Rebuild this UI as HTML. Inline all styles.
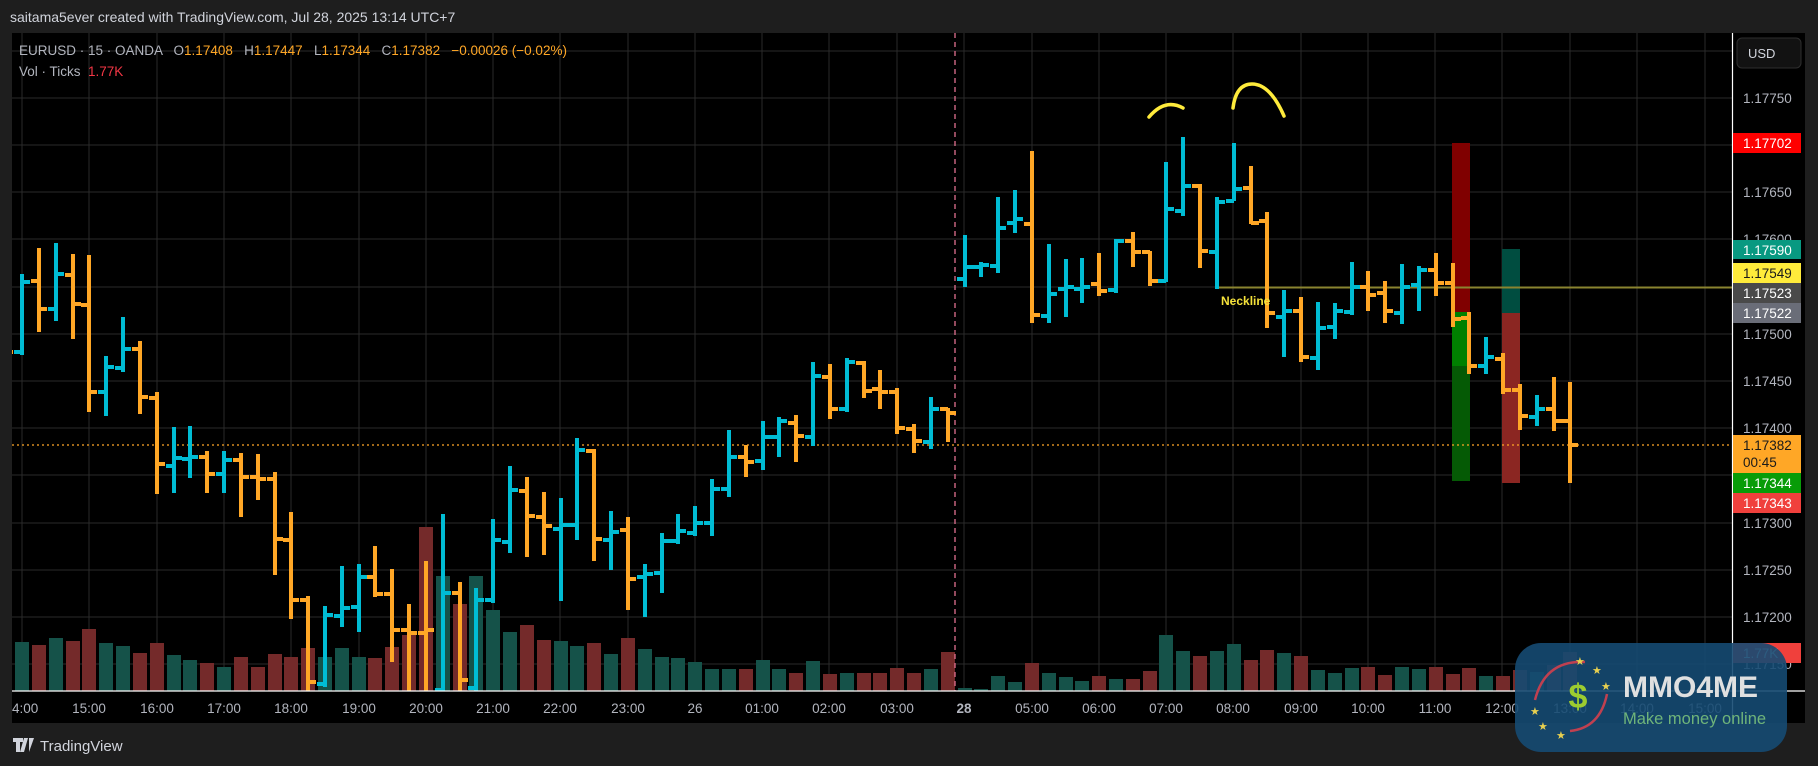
<!DOCTYPE html>
<html><head><meta charset="utf-8"><style>
html,body{margin:0;padding:0;background:#1e1e1e;width:1818px;height:766px;overflow:hidden}
svg{display:block}
text{font-family:"Liberation Sans",sans-serif}
</style></head><body>
<svg width="1818" height="766" viewBox="0 0 1818 766" xmlns="http://www.w3.org/2000/svg">
<rect x="0" y="0" width="1818" height="766" fill="#1e1e1e"/>
<text x="10" y="22" font-size="14" fill="#d1d4dc">saitama5ever created with TradingView.com, Jul 28, 2025 13:14 UTC+7</text>
<rect x="12" y="33" width="1793" height="690" fill="#000"/>
<defs><clipPath id="pc"><rect x="12" y="33" width="1720" height="658"/></clipPath></defs>
<g stroke="#2a2a2a" stroke-width="1">
<path d="M12 51H1732M12 98H1732M12 145H1732M12 192H1732M12 239H1732M12 287H1732M12 334H1732M12 381H1732M12 428H1732M12 475H1732M12 523H1732M12 570H1732M12 617H1732M12 664H1732"/>
<path d="M22 33V691M89 33V691M157 33V691M224 33V691M291 33V691M359 33V691M426 33V691M493 33V691M560 33V691M628 33V691M695 33V691M762 33V691M829 33V691M897 33V691M964 33V691M1032 33V691M1099 33V691M1166 33V691M1233 33V691M1301 33V691M1368 33V691M1435 33V691M1502 33V691M1570 33V691M1637 33V691M1705 33V691"/>
</g>
<g clip-path="url(#pc)">
<path stroke="#155249" stroke-width="14" fill="none" d="M22 691V642M56 691V638M106 691V643M123 691V646M174 691V655M190 691V660M224 691V667M325 691V657M342 691V648M359 691V657M443 691V576M476 691V576M493 691V610M510 691V632M561 691V641M577 691V646M611 691V654M645 691V649M662 691V657M678 691V658M695 691V662M712 691V669M729 691V669M763 691V660M779 691V669M813 691V661M847 691V673M931 691V669M965 691V688M981 691V689M998 691V676M1015 691V682M1049 691V673M1066 691V677M1082 691V681M1116 691V679M1166 691V635M1183 691V651M1217 691V651M1234 691V644M1284 691V653M1318 691V670M1335 691V673M1352 691V668M1402 691V667M1419 691V669M1486 691V676M1537 691V672"/>
<path stroke="#742a2a" stroke-width="14" fill="none" d="M39 691V645M73 691V641M89 691V629M140 691V653M157 691V643M207 691V663M241 691V657M258 691V667M275 691V654M291 691V657M308 691V648M375 691V658M392 691V647M409 691V635M426 691V527M460 691V604M527 691V625M544 691V640M594 691V643M628 691V638M746 691V669M796 691V673M830 691V674M864 691V673M880 691V673M897 691V668M914 691V673M948 691V652M1032 691V663M1099 691V676M1133 691V679M1150 691V671M1200 691V656M1251 691V660M1267 691V650M1301 691V656M1368 691V667M1385 691V675M1436 691V667M1453 691V674M1469 691V668M1503 691V676M1520 691V670M1554 691V665M1570 691V652"/>
<rect x="1452" y="143" width="18" height="169" fill="#800000"/>
<rect x="1452" y="312" width="18" height="54" fill="#008000"/>
<rect x="1452" y="366" width="18" height="115" fill="#055a05"/>
<rect x="1502" y="249" width="18" height="64" fill="#004d40"/>
<rect x="1502" y="313" width="18" height="170" fill="#8b2622"/>
<path d="M1218 287.5H1732" stroke="#8a8430" stroke-width="2"/>
<path d="M12 445H1732" stroke="#ffa726" stroke-width="1.3" stroke-dasharray="2 3"/>
<path d="M955 33V691" stroke="#e0708f" stroke-width="1.3" stroke-dasharray="5 4"/>
<path stroke="#00bcd4" stroke-width="4" fill="none" d="M22 274V355M14 352H22M22 282H30M56 243V321M48 309H56M56 274H64M106 356V416M98 392H106M106 367H114M123 317V372M115 368H123M123 349H131M174 427V493M166 466H174M174 458H182M190 426V478M182 459H190M190 457H198M224 451V493M216 474H224M224 460H232M325 606V687M317 684H325M325 615H333M342 566V627M334 616H342M342 608H350M359 564V632M351 607H359M359 577H367M443 514V691M435 690H443M443 593H451M476 588V691M468 688H476M476 600H484M493 519V603M485 600H493M493 540H501M510 466V553M502 542H510M510 490H518M561 498V601M553 529H561M561 525H569M577 438V540M569 525H577M577 450H585M611 511V570M603 540H611M611 532H619M645 564V617M637 577H645M645 574H653M662 533V593M654 573H662M662 541H670M678 514V544M670 541H678M678 531H686M695 506V536M687 533H695M695 523H703M712 479V536M704 523H712M712 489H720M729 430V497M721 489H729M729 457H737M763 421V470M755 461H763M763 437H771M779 417V457M771 437H779M779 421H787M813 362V446M805 437H813M813 376H821M847 358V412M839 409H847M847 362H855M931 397V449M923 442H931M931 409H939M965 235V287M957 279H965M965 267H973M981 262V277M973 267H981M981 265H989M998 197V273M990 266H998M998 228H1006M1015 190V233M1007 223H1015M1015 219H1023M1049 244V323M1041 316H1049M1049 294H1057M1066 259V317M1058 289H1066M1066 287H1074M1082 258V303M1074 289H1082M1082 287H1090M1116 239V293M1108 290H1116M1116 241H1124M1166 162V282M1158 281H1166M1166 209H1174M1183 137V216M1175 211H1183M1183 186H1191M1217 197V289M1209 252H1217M1217 202H1225M1234 143V201M1226 201H1234M1234 189H1242M1284 290V357M1276 317H1284M1284 311H1292M1318 302V370M1310 358H1318M1318 328H1326M1335 303V339M1327 327H1335M1335 311H1343M1352 262V315M1344 312H1352M1352 287H1360M1402 264V324M1394 313H1402M1402 287H1410M1419 266V311M1411 285H1419M1419 270H1427M1486 337V374M1478 366H1486M1486 357H1494M1537 395V426M1529 417H1537M1537 409H1545"/>
<path stroke="#ffa726" stroke-width="4" fill="none" d="M5 340V360M5 352H13M39 248V332M31 281H39M39 309H47M73 254V339M65 275H73M73 304H81M89 255V412M81 305H89M89 392H97M140 341V414M132 349H140M140 397H148M157 392V494M149 398H157M157 464H165M207 451V493M199 457H207M207 474H215M241 453V517M233 460H241M241 477H249M258 454V500M250 477H258M258 479H266M275 472V575M267 479H275M275 539H283M291 512V619M283 540H291M291 600H299M308 596V691M300 600H308M308 682H316M375 546V597M367 577H375M375 594H383M392 569V662M384 594H392M392 630H400M409 604V691M401 630H409M409 633H417M426 561V691M418 633H426M426 630H434M460 582V691M452 593H460M460 680H468M527 477V557M519 491H527M527 516H535M544 492V555M536 517H544M544 526H552M594 449V561M586 451H594M594 539H602M628 517V610M620 530H628M628 579H636M746 445V477M738 457H746M746 462H754M796 415V462M788 423H796M796 436H804M830 364V419M822 377H830M830 409H838M864 361V398M856 363H864M864 391H872M880 370V409M872 389H880M880 392H888M897 388V434M889 392H897M897 428H905M914 424V453M906 429H914M914 441H922M948 408V442M940 409H948M948 413H956M1032 151V323M1024 224H1032M1032 315H1040M1099 253V296M1091 284H1099M1099 291H1107M1133 232V267M1125 241H1133M1133 252H1141M1150 251V286M1142 252H1150M1150 281H1158M1200 184V268M1192 186H1200M1200 251H1208M1251 166V224M1243 188H1251M1251 223H1259M1267 212V328M1259 221H1267M1267 313H1275M1301 297V362M1293 311H1301M1301 357H1309M1368 271V311M1360 287H1368M1368 295H1376M1385 281V323M1377 293H1385M1385 311H1393M1436 253V296M1428 270H1436M1436 283H1444M1453 263V327M1445 283H1453M1453 319H1461M1469 312V374M1461 318H1469M1469 366H1477M1503 353V394M1495 359H1503M1503 390H1511M1520 384V430M1512 390H1520M1520 416H1528M1554 377V431M1546 409H1554M1554 421H1562M1570 382V483M1562 421H1570M1570 445H1578"/>
<path d="M1149 117Q1165 98 1183 108" stroke="#ffeb3b" stroke-width="3.5" fill="none" stroke-linecap="round"/>
<path d="M1233 108Q1236 84 1252 84Q1270 84 1284 116" stroke="#ffeb3b" stroke-width="3.5" fill="none" stroke-linecap="round"/>
<text x="1221" y="305" font-size="12" font-weight="bold" fill="#f5e23a">Neckline</text>
</g>
<path d="M12 691H1805" stroke="#ffffff" stroke-width="1.2"/>
<path d="M1732.5 33V723" stroke="#ffffff" stroke-width="1.2"/>
<text x="19" y="55" font-size="13.5" fill="#b2b5be" style="white-space:pre">EURUSD · 15 · OANDA   O<tspan fill="#ffa726">1.17408</tspan>   H<tspan fill="#ffa726">1.17447</tspan>   L<tspan fill="#ffa726">1.17344</tspan>   C<tspan fill="#ffa726">1.17382</tspan>   <tspan fill="#ffa726">−0.00026 (−0.02%)</tspan></text>
<text x="19" y="76" font-size="13.5" fill="#b2b5be" style="white-space:pre">Vol · Ticks  <tspan fill="#f23645">1.77K</tspan></text>
<rect x="1737" y="38" width="64" height="30" rx="5" fill="#121212" stroke="#2e2e2e"/>
<text x="1748" y="58" font-size="13" fill="#d1d4dc">USD</text>
<g font-size="13.5" fill="#b2b5be">
<text x="1743" y="103">1.17750</text>
<text x="1743" y="197">1.17650</text>
<text x="1743" y="244">1.17600</text>
<text x="1743" y="339">1.17500</text>
<text x="1743" y="386">1.17450</text>
<text x="1743" y="433">1.17400</text>
<text x="1743" y="528">1.17300</text>
<text x="1743" y="575">1.17250</text>
<text x="1743" y="622">1.17200</text>
<text x="1743" y="669">1.17150</text>
</g>
<rect x="1733" y="133" width="68" height="20" fill="#ff0000"/>
<rect x="1733" y="240" width="68" height="19" fill="#089981"/>
<rect x="1733" y="263" width="68" height="20" fill="#ffeb3b"/>
<rect x="1733" y="283" width="68" height="20" fill="#4a4a4a"/>
<rect x="1733" y="303" width="68" height="20" fill="#6a6d78"/>
<rect x="1733" y="435" width="68" height="38" fill="#ffa726"/>
<rect x="1733" y="473" width="68" height="20" fill="#089c08"/>
<rect x="1733" y="493" width="68" height="20" fill="#f0403c"/>
<rect x="1733" y="643" width="68" height="20" fill="#f0403c"/>
<g font-size="13.5" fill="#ffffff">
<text x="1743" y="148">1.17702</text>
<text x="1743" y="255">1.17590</text>
<text x="1743" y="278" fill="#1a1a1a">1.17549</text>
<text x="1743" y="298">1.17523</text>
<text x="1743" y="318">1.17522</text>
<text x="1743" y="450" fill="#1a1a1a">1.17382</text>
<text x="1743" y="467" fill="#1a1a1a">00:45</text>
<text x="1743" y="488">1.17344</text>
<text x="1743" y="508">1.17343</text>
<text x="1743" y="658">1.77K</text>
</g>
<g font-size="13.5" fill="#b2b5be" text-anchor="middle">
<text x="89" y="713">15:00</text><text x="157" y="713">16:00</text><text x="224" y="713">17:00</text><text x="291" y="713">18:00</text><text x="359" y="713">19:00</text><text x="426" y="713">20:00</text><text x="493" y="713">21:00</text><text x="560" y="713">22:00</text><text x="628" y="713">23:00</text><text x="695" y="713">26</text><text x="762" y="713">01:00</text><text x="829" y="713">02:00</text><text x="897" y="713">03:00</text><text x="964" y="713" font-weight="bold">28</text><text x="1032" y="713">05:00</text><text x="1099" y="713">06:00</text><text x="1166" y="713">07:00</text><text x="1233" y="713">08:00</text><text x="1301" y="713">09:00</text><text x="1368" y="713">10:00</text><text x="1435" y="713">11:00</text><text x="1502" y="713">12:00</text><text x="1570" y="713">13:00</text><text x="1637" y="713">14:00</text><text x="1705" y="713">15:00</text>
</g>
<text x="12" y="713" font-size="13.5" fill="#b2b5be">4:00</text>
<rect x="0" y="690" width="12" height="40" fill="#1e1e1e"/>
<path d="M13 738h10v4h-3v10h-4v-10h-3zM24 738h4l-4 14h-4zM29 738h5l-5 14z" fill="#d1d4dc"/>
<text x="40" y="751" font-size="15" fill="#d1d4dc">TradingView</text>
<rect x="1515" y="643" width="272" height="109" rx="26" fill="#154a72" fill-opacity="0.9"/>
<path d="M1535 700Q1545 660 1585 662" stroke="#c04050" stroke-width="2.5" fill="none"/>
<path d="M1570 731Q1600 728 1607 694" stroke="#c04050" stroke-width="2.5" fill="none"/>
<text x="1578" y="708" font-size="34" font-weight="bold" fill="#9ccc30" text-anchor="middle">$</text>
<g fill="#e8d050" font-size="11"><text x="1575" y="665">★</text><text x="1592" y="674">★</text><text x="1601" y="690">★</text><text x="1530" y="715">★</text><text x="1538" y="730">★</text><text x="1556" y="739">★</text></g>
<text x="1623" y="697" font-size="30" font-weight="bold" fill="#e0e0e0">MMO4ME</text>
<text x="1623" y="724" font-size="16.5" fill="#6fb47a">Make money online</text>
</svg>
</body></html>
